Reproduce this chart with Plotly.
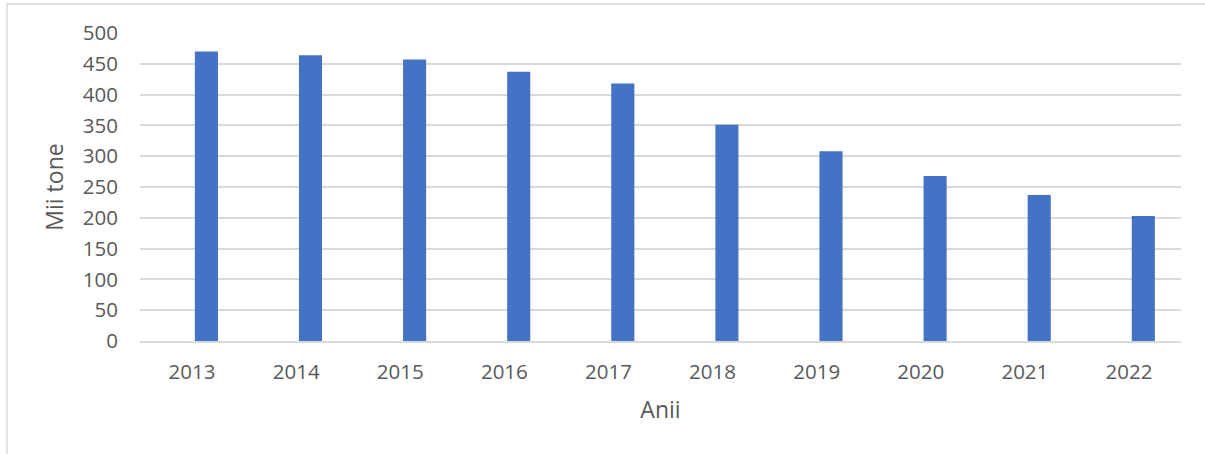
import plotly.graph_objects as go

years = ["2013", "2014", "2015", "2016", "2017", "2018", "2019", "2020", "2021", "2022"]
values = [470, 464, 457, 437, 418, 351, 308, 268, 237, 203]
y_ticks = [0, 50, 100, 150, 200, 250, 300, 350, 400, 450, 500]

L, R, T, B = 140, 24, 33, 113
W, H = 1205, 454
pw, ph = W - L - R, H - T - B

fig = go.Figure(go.Bar(x=years, y=values, marker=dict(color="#4472C4", line=dict(width=0)),
                       width=0.222, offset=0.027))

font = "'Open Sans', 'Noto Sans', sans-serif"
fig.update_layout(
    width=W, height=H,
    margin=dict(l=L, r=R, t=T, b=B, pad=0),
    paper_bgcolor="white", plot_bgcolor="white",
    showlegend=False,
    font=dict(family=font, color="#595959", size=20),
    xaxis=dict(
        type="category", showgrid=False, showline=True, linecolor="#d9d9d9", linewidth=1.5,
        ticks="", tickfont=dict(size=20.5, color="#595959"), ticklabelstandoff=12,
        title=dict(text="Anii", font=dict(size=23, color="#595959"), standoff=18),
    ),
    yaxis=dict(
        range=[0, 500], tickvals=y_ticks, showgrid=True, gridcolor="#d9d9d9", gridwidth=1.5,
        zeroline=False, showline=False, ticks="", tickfont=dict(size=20.5, color="#595959"),
        ticklabelstandoff=21,
        title=dict(text="Mii tone", font=dict(size=23, color="#595959"), standoff=12),
    ),
    shapes=[dict(
        type="rect", xref="paper", yref="paper",
        x0=(7 - L) / pw, x1=(W + 20 - L) / pw,
        y0=-(B + 20) / ph, y1=1 + (T - 4) / ph,
        line=dict(color="#d9d9d9", width=1.5), fillcolor="rgba(0,0,0,0)", layer="below",
    )],
)

fig.write_html("out.html", config={"displayModeBar": False},
               post_script="document.body.style.margin='0';")
